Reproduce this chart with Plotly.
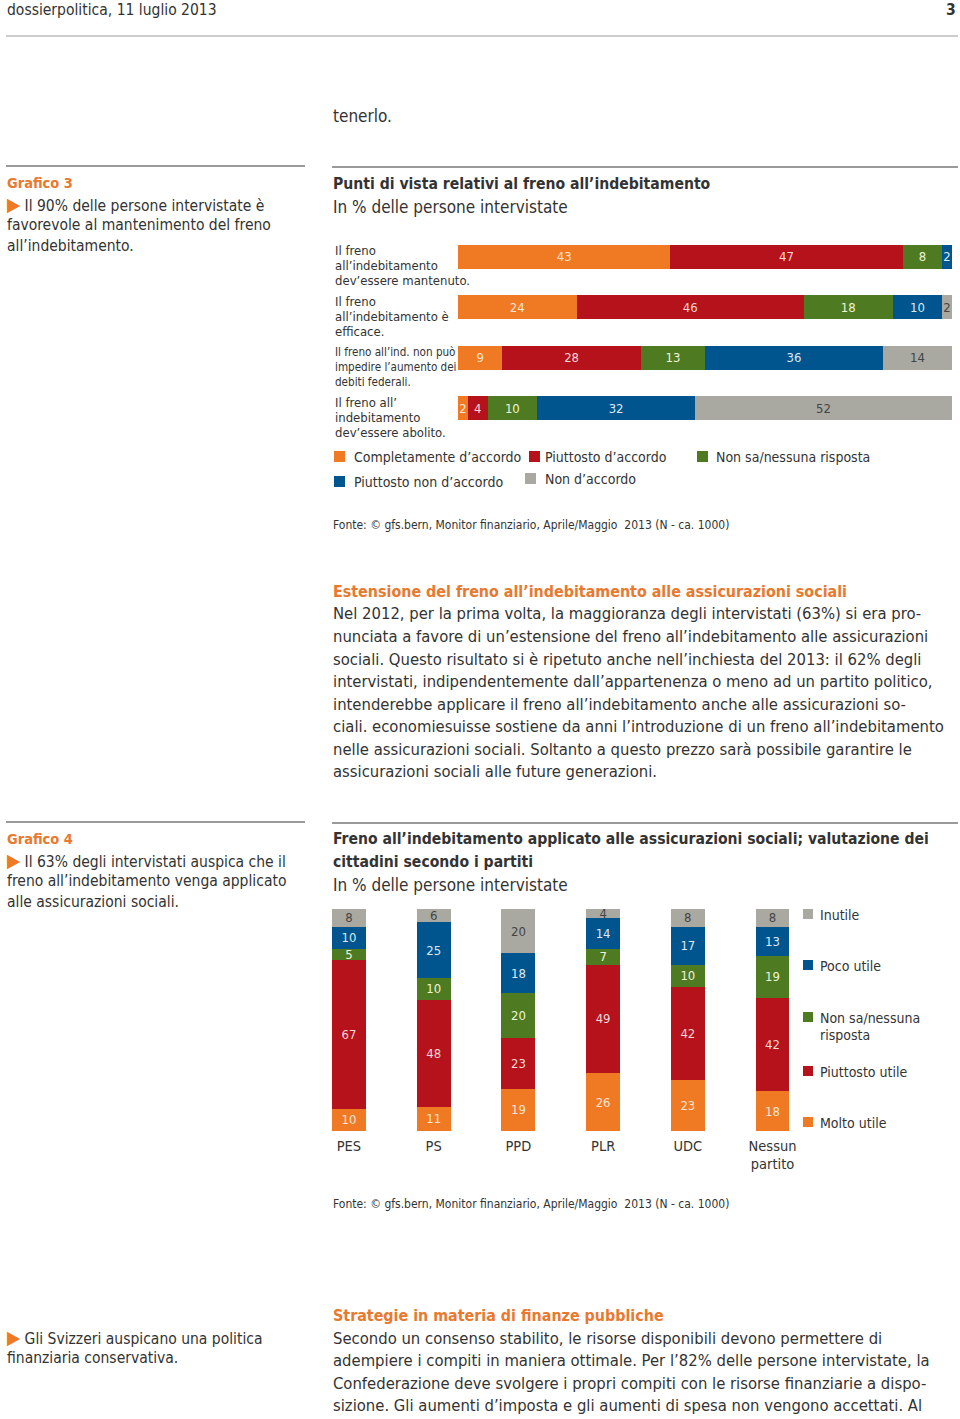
import plotly.graph_objects as go

W, H = 960, 1419
FONT = "DejaVu Sans Condensed, Liberation Sans Narrow, Roboto, sans-serif"
TXT = "#333333"
ORANGE_T = "#E8792E"

# ---------------- Data: chart 3 ----------------
statements = [
    "Il freno all’indebitamento dev’essere mantenuto.",
    "Il freno all’indebitamento è efficace.",
    "Il freno all’ind. non può impedire l’aumento dei debiti federali.",
    "Il freno all’ indebitamento dev’essere abolito.",
]
statement_lines = [
    ["Il freno", "all’indebitamento", "dev’essere mantenuto."],
    ["Il freno", "all’indebitamento è", "efficace."],
    ["Il freno all’ind. non può", "impedire l’aumento dei", "debiti federali."],
    ["Il freno all’", "indebitamento", "dev’essere abolito."],
]
c3_series = ["Completamente d’accordo", "Piuttosto d’accordo", "Non sa/nessuna risposta",
             "Piuttosto non d’accordo", "Non d’accordo"]
c3_completamente = [43, 24, 9, 2]
c3_piuttosto = [47, 46, 28, 4]
c3_nonsa = [8, 18, 13, 10]
c3_piuttosto_non = [2, 10, 36, 32]
c3_non = [0, 2, 14, 52]

# ---------------- Data: chart 4 ----------------
parties = ["PES", "PS", "PPD", "PLR", "UDC", "Nessun<br>partito"]
c4_series = ["Molto utile", "Piuttosto utile", "Non sa/nessuna risposta", "Poco utile", "Inutile"]
c4_molto = [10, 11, 19, 26, 23, 18]
c4_piuttosto = [67, 48, 23, 49, 42, 42]
c4_nonsa = [5, 10, 20, 7, 10, 19]
c4_poco = [10, 25, 18, 14, 17, 13]
c4_inutile = [8, 6, 20, 4, 8, 8]

COLORS = ["#F07A24", "#B5121B", "#4E7A21", "#00558F", "#A9A9A1"]
TEXTCOL = ["#FBE3CF", "#F3D6D6", "#EEF3D8", "#DDE8F2", "#444444"]


def px(x):
    return x / W


def py(y):
    return 1 - y / H


fig = go.Figure()

c3_values = [c3_completamente, c3_piuttosto, c3_nonsa, c3_piuttosto_non, c3_non]
for name, vals, col, tcol in zip(c3_series, c3_values, COLORS, TEXTCOL):
    fig.add_trace(go.Bar(
        x=vals, y=statements, orientation="h", name=name,
        marker=dict(color=col, line=dict(width=0)), width=0.47,
        text=[str(v) if v else "" for v in vals], textposition="inside",
        insidetextanchor="middle", textangle=0, constraintext="none",
        insidetextfont=dict(color=tcol, size=13, family=FONT),
        xaxis="x", yaxis="y", showlegend=False, hoverinfo="skip",
    ))

c4_values = [c4_molto, c4_piuttosto, c4_nonsa, c4_poco, c4_inutile]
for name, vals, col, tcol in zip(c4_series, c4_values, COLORS, TEXTCOL):
    fig.add_trace(go.Bar(
        x=parties, y=vals, name=name,
        marker=dict(color=col, line=dict(width=0)), width=0.40,
        text=[str(v) for v in vals], textposition="inside",
        insidetextanchor="middle", textangle=0, constraintext="none",
        insidetextfont=dict(color=tcol, size=13, family=FONT),
        xaxis="x2", yaxis="y2", showlegend=False, hoverinfo="skip",
    ))

annotations = []
shapes = []


def txt(x, y, s, size=15, color=TXT, anchor="left", bold=False, yanchor="middle"):
    if bold:
        s = "<b>" + s + "</b>"
    annotations.append(dict(
        x=px(x), y=py(y), xref="paper", yref="paper", text=s, showarrow=False,
        xanchor=anchor, yanchor=yanchor, align=anchor, borderpad=0,
        font=dict(size=size, color=color, family=FONT)))


def hline(x0, x1, y, width=1, color="#9A9A9A"):
    shapes.append(dict(type="line", xref="paper", yref="paper",
                       x0=px(x0), x1=px(x1), y0=py(y), y1=py(y),
                       line=dict(color=color, width=width)))


def square(x0, x1, y0, y1, color):
    shapes.append(dict(type="rect", xref="paper", yref="paper",
                       x0=px(x0), x1=px(x1), y0=py(y1), y1=py(y0),
                       fillcolor=color, line=dict(width=0)))


TRI = "<span style='color:#F07A24;font-size:19px'>▶</span> "

# header
txt(6, 10, "dossierpolitica, 11 luglio 2013", size=15.5)
txt(957, 10, "3", size=15.5, anchor="right", bold=True)
hline(6, 958, 36, 1)
txt(332, 116, "tenerlo.", size=17)

# Grafico 3 block
hline(6, 305, 166, 2)
hline(332, 958, 167, 2)
txt(6, 183, "Grafico 3", size=14.5, color=ORANGE_T, bold=True)
txt(6, 204, TRI + "Il 90% delle persone intervistate è", size=15.5)
txt(6, 225, "favorevole al mantenimento del freno", size=15.5)
txt(6, 246, "all’indebitamento.", size=15.5)
txt(332, 184, "Punti di vista relativi al freno all’indebitamento", size=15.6, bold=True)
txt(332, 207, "In % delle persone intervistate", size=17)

# row labels chart 3 (one annotation per line)
label_sizes = [13, 13, 11.6, 13]
for s, lines, fs in zip(statements, statement_lines, label_sizes):
    for k, line in enumerate(lines):
        annotations.append(dict(
            x=px(334), y=s, xref="paper", yref="y", text=line, showarrow=False,
            xanchor="left", yanchor="middle", align="left", borderpad=0,
            yshift=6 - 15 * k,
            font=dict(size=fs, color=TXT, family=FONT)))

# manual legend chart 3
leg3 = [(0, 334, 457, 353), (1, 529, 457, 544), (2, 697, 457, 715),
        (3, 334, 482, 353), (4, 525, 479, 544)]
for ci, sx, yy, tx in leg3:
    square(sx, sx + 11, yy - 6, yy + 5, COLORS[ci])
    txt(tx, yy, c3_series[ci], size=14)

txt(332, 525, "Fonte: © gfs.bern, Monitor finanziario, Aprile/Maggio  2013 (N - ca. 1000)", size=12)

# paragraph 1
txt(332, 591, "Estensione del freno all’indebitamento alle assicurazioni sociali", size=15.9,
    color=ORANGE_T, bold=True)
para1 = [
    "Nel 2012, per la prima volta, la maggioranza degli intervistati (63%) si era pro-",
    "nunciata a favore di un’estensione del freno all’indebitamento alle assicurazioni",
    "sociali. Questo risultato si è ripetuto anche nell’inchiesta del 2013: il 62% degli",
    "intervistati, indipendentemente dall’appartenenza o meno ad un partito politico,",
    "intenderebbe applicare il freno all’indebitamento anche alle assicurazioni so-",
    "ciali. economiesuisse sostiene da anni l’introduzione di un freno all’indebitamento",
    "nelle assicurazioni sociali. Soltanto a questo prezzo sarà possibile garantire le",
    "assicurazioni sociali alle future generazioni.",
]
for i, line in enumerate(para1):
    txt(332, 614 + i * 22.5, line, size=16.5)

# Grafico 4 block
hline(6, 305, 822, 2)
hline(332, 958, 823, 2)
txt(6, 839, "Grafico 4", size=14.5, color=ORANGE_T, bold=True)
txt(6, 860, TRI + "Il 63% degli intervistati auspica che il", size=15.5)
txt(6, 881, "freno all’indebitamento venga applicato", size=15.5)
txt(6, 902, "alle assicurazioni sociali.", size=15.5)
txt(332, 839, "Freno all’indebitamento applicato alle assicurazioni sociali; valutazione dei",
    size=15.6, bold=True)
txt(332, 862, "cittadini secondo i partiti", size=15.6, bold=True)
txt(332, 885, "In % delle persone intervistate", size=17)

# manual legend chart 4
leg4 = [(4, 915, ["Inutile"]), (3, 966, ["Poco utile"]),
        (2, 1018, ["Non sa/nessuna", "risposta"]),
        (1, 1072, ["Piuttosto utile"]), (0, 1123, ["Molto utile"])]
for ci, yy, lines in leg4:
    square(803, 813, yy - 6, yy + 4, COLORS[ci])
    for k, line in enumerate(lines):
        txt(819, yy + 17 * k, line, size=14)

txt(332, 1204, "Fonte: © gfs.bern, Monitor finanziario, Aprile/Maggio  2013 (N - ca. 1000)", size=12)

# bottom
txt(6, 1337, TRI + "Gli Svizzeri auspicano una politica", size=15.5)
txt(6, 1358, "finanziaria conservativa.", size=15.5)
txt(332, 1315, "Strategie in materia di finanze pubbliche", size=15.9, color=ORANGE_T, bold=True)
para2 = [
    "Secondo un consenso stabilito, le risorse disponibili devono permettere di",
    "adempiere i compiti in maniera ottimale. Per l’82% delle persone intervistate, la",
    "Confederazione deve svolgere i propri compiti con le risorse finanziarie a dispo-",
    "sizione. Gli aumenti d’imposta e gli aumenti di spesa non vengono accettati. Al",
]
for i, line in enumerate(para2):
    txt(332, 1338 + i * 22.5, line, size=16.5)

fig.update_layout(
    width=W, height=H, margin=dict(l=0, r=0, t=0, b=0),
    paper_bgcolor="white", plot_bgcolor="white",
    barmode="stack", showlegend=False,
    font=dict(family=FONT, color=TXT),
    uniformtext=dict(minsize=12, mode="show"),
    xaxis=dict(domain=[px(458), px(952)], range=[0, 100], visible=False, fixedrange=True),
    yaxis=dict(domain=[py(433.2), py(231.8)], range=[3.5, -0.5], visible=False,
               categoryorder="array", categoryarray=statements),
    xaxis2=dict(domain=[px(306.6), px(814.9)], anchor="y2", range=[-0.5, 5.5],
                showgrid=False, zeroline=False, showline=False, ticks="",
                ticklabelstandoff=4,
                tickfont=dict(size=14.5, color=TXT, family=FONT),
                categoryorder="array", categoryarray=parties),
    yaxis2=dict(domain=[py(1131), py(909)], range=[0, 100], visible=False, anchor="x2"),
    annotations=annotations, shapes=shapes,
)

fig.write_html(
    "out.html",
    config={"displayModeBar": False, "staticPlot": True},
    post_script="document.body.style.margin='0';document.body.style.overflow='hidden';",
)
